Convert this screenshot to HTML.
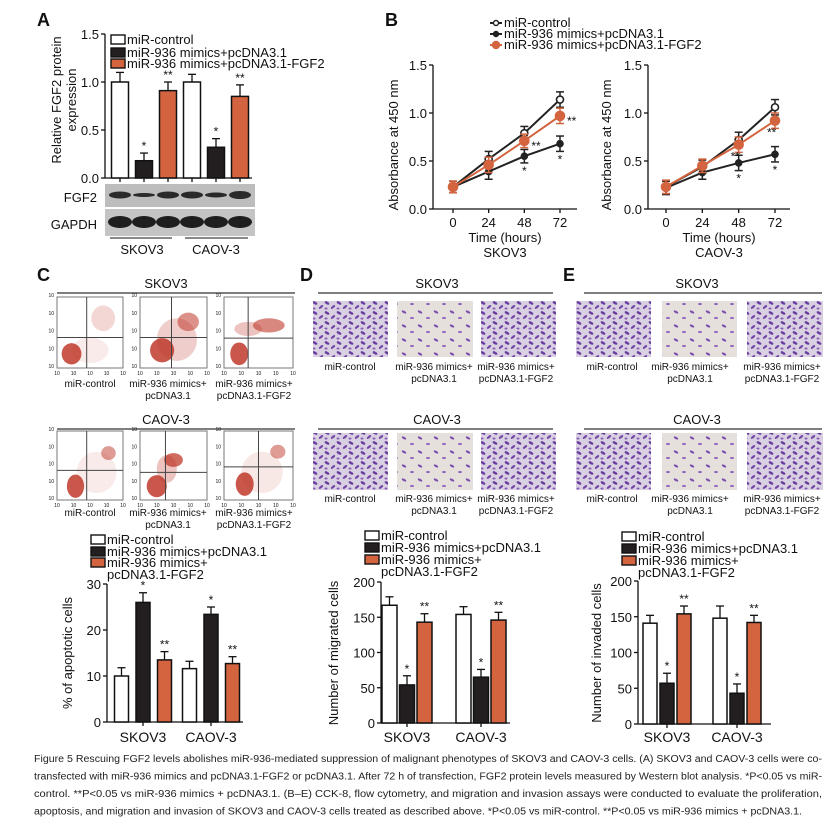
<!DOCTYPE html>
<html><head><meta charset="utf-8">
<style>
html,body{margin:0;padding:0;background:#fff;}
svg{display:block;font-family:"Liberation Sans",Arial,sans-serif;}
</style></head>
<body>
<svg id="fig" width="838" height="832" viewBox="0 0 838 832" xmlns="http://www.w3.org/2000/svg">
<defs>
<pattern id="densePat" width="12" height="10" patternUnits="userSpaceOnUse">
<rect width="12" height="10" fill="#d9d0e2"/>
<ellipse cx="3" cy="3" rx="2.6" ry="1.3" fill="#6a3fa0" transform="rotate(30 3 3)"/>
<ellipse cx="9" cy="7" rx="2.6" ry="1.2" fill="#7446a8" transform="rotate(-40 9 7)"/>
<ellipse cx="2" cy="8.5" rx="1.5" ry="1" fill="#8a5cba"/>
</pattern>
<pattern id="sparsePat" width="16" height="14" patternUnits="userSpaceOnUse">
<rect width="16" height="14" fill="#e6e0dc"/>
<ellipse cx="4" cy="4" rx="2.5" ry="1.1" fill="#7c4fb0" transform="rotate(30 4 4)"/>
<ellipse cx="12" cy="10" rx="2" ry="1" fill="#8d64bb"/>
</pattern>
</defs>
</svg>
<script>
// ---------- DATA ----------
const barCategories = ['SKOV3', 'CAOV-3'];
const seriesNames = ['miR-control', 'miR-936 mimics+pcDNA3.1', 'miR-936 mimics+pcDNA3.1-FGF2'];
// Panel A
const aControl = [1.0, 1.0];
const aMimics = [0.18, 0.32];
const aFGF2 = [0.91, 0.85];
const aControlErr = [0.10, 0.08];
const aMimicsErr = [0.08, 0.09];
const aFGF2Err = [0.09, 0.12];
const aTicks = ['0.0', '0.5', '1.0', '1.5'];
// Panel B
const bTimes = [0, 24, 48, 72];
const bTimeTicks = ['0', '24', '48', '72'];
const bSkovControl = [0.23, 0.52, 0.79, 1.14];
const bSkovMimics = [0.23, 0.39, 0.55, 0.68];
const bSkovFGF2 = [0.23, 0.46, 0.71, 0.97];
const bSkovErr = [0.06, 0.08, 0.07, 0.08];
const bCaovControl = [0.23, 0.44, 0.72, 1.06];
const bCaovMimics = [0.22, 0.38, 0.48, 0.57];
const bCaovFGF2 = [0.23, 0.45, 0.67, 0.92];
const bCaovErr = [0.07, 0.07, 0.08, 0.08];
const bTicks = ['0.0', '0.5', '1.0', '1.5'];
// Panel C (apoptosis)
const cControl = [10.0, 11.6];
const cMimics = [26.0, 23.4];
const cFGF2 = [13.5, 12.7];
const cControlErr = [1.8, 1.6];
const cMimicsErr = [2.1, 1.6];
const cFGF2Err = [1.8, 1.5];
const cTicks = ['0', '10', '20', '30'];
// Panel D (migration)
const dControl = [167, 154];
const dMimics = [54, 65];
const dFGF2 = [143, 146];
const dControlErr = [12, 11];
const dMimicsErr = [13, 11];
const dFGF2Err = [12, 11];
const dTicks = ['0', '50', '100', '150', '200'];
// Panel E (invasion)
const eControl = [141, 148];
const eMimics = [57, 43];
const eFGF2 = [154, 142];
const eControlErr = [11, 17];
const eMimicsErr = [14, 13];
const eFGF2Err = [11, 10];
const eTicks = ['0', '50', '100', '150', '200'];

// ---------- HELPERS ----------
const NS = 'http://www.w3.org/2000/svg';
const svg = document.getElementById('fig');
const ORANGE = '#d4643f';
function mk(tag, attrs, parent) {
  const e = document.createElementNS(NS, tag);
  for (const k in attrs) e.setAttribute(k, attrs[k]);
  (parent || svg).appendChild(e);
  return e;
}
function tx(x, y, s, size, anchor, name, extra) {
  const a = {x: x, y: y, 'font-size': size, 'text-anchor': anchor || 'start', fill: '#111'};
  if (extra) for (const k in extra) a[k] = extra[k];
  const t = mk('text', a);
  t.textContent = s;
  
  
  return t;
}
function ln(x1, y1, x2, y2, name, w, col) {
  const l = mk('line', {x1: x1, y1: y1, x2: x2, y2: y2, stroke: col || '#111', 'stroke-width': w || 1.3});
  
  
  return l;
}

// ---------- BAR CHART ----------
function barChart(p, series, errs, ticks, max) {
  const ys = v => p.y0 - (v / max) * (p.y0 - p.y1);
  ln(p.ax, p.y1, p.ax, p.y0, p.id + '-y-axis');
  ln(p.ax, p.y0, p.xe, p.y0, p.id + '-x-axis');
  ticks.forEach(t => {
    const v = parseFloat(t);
    ln(p.ax - 4, ys(v), p.ax, ys(v), p.id + '-y-tick');
    tx(p.ax - 6, ys(v) + 5, t, 13, 'end', p.id + '-y-tick-label');
  });
  const fills = ['#fff', '#231f20', ORANGE];
  const marks = [null, '*', '**'];
  barCategories.forEach((cat, g) => {
    const gc = p.groups[g];
    series.forEach((vals, s) => {
      const cx = gc + (s - 1) * p.off;
      const v = vals[g], e = errs[s][g];
      const top = ys(v), etop = ys(v + e);
      ln(cx, etop, cx, top, p.id + '-error-bar');
      ln(cx - 4, etop, cx + 4, etop, p.id + '-error-cap');
      const r = mk('rect', {x: cx - p.bw / 2, y: top, width: p.bw, height: p.y0 - top, fill: fills[s], stroke: '#111', 'stroke-width': 1.5});
      
      
      if (p.subTicks) ln(cx, p.y0, cx, p.y0 + 4, p.id + '-x-tick');
      if (marks[s]) tx(cx, etop - 3, marks[s], 12, 'middle', p.id + '-significance');
    });
    if (!p.subTicks) ln(gc, p.y0, gc, p.y0 + 4, p.id + '-x-tick');
    if (p.catY) tx(gc, p.catY, cat, 14, 'middle', p.id + '-category-label');
  });
}
function legend(x, ys, names, fs, name, wrapY) {
  const fills = ['#fff', '#231f20', ORANGE];
  names.forEach((n, i) => {
    const r = mk('rect', {x: x, y: ys[i], width: 14, height: 9, fill: fills[i], stroke: '#111', 'stroke-width': 1.4});
    
    
    tx(x + 16, ys[i] + 9, n, fs, 'start', name + '-entry');
  });
  if (wrapY) tx(x + 16, wrapY, 'pcDNA3.1-FGF2', fs, 'start', name + '-entry-wrap');
}

// ---------- PANEL LABELS ----------
[['A', 37, 26], ['B', 385, 26], ['C', 37, 281], ['D', 300, 281], ['E', 563, 281]].forEach(l => {
  tx(l[1], l[2], l[0], 18, 'start', 'panel-label-' + l[0].toLowerCase(), {'font-weight': 'bold'});
});

// ---------- PANEL A ----------
barChart({id: 'a', ax: 105, y0: 178, y1: 34, xe: 252, groups: [144, 216], off: 24, bw: 17, subTicks: true},
  [aControl, aMimics, aFGF2], [aControlErr, aMimicsErr, aFGF2Err], aTicks, 1.5);
legend(111, [35, 48, 59], seriesNames, 13, 'a-legend');
tx(61, 100, 'Relative FGF2 protein', 13, 'middle', 'a-y-axis-title', {transform: 'rotate(-90 61 100)'});
tx(76, 100, 'expression', 13, 'middle', 'a-y-axis-title-2', {transform: 'rotate(-90 76 100)'});
const blot1 = mk('rect', {x: 105, y: 184, width: 150, height: 23, fill: '#bdbdbd'});


const blot2 = mk('rect', {x: 105, y: 209, width: 150, height: 27, fill: '#c4c4c4'});


const fgfH = [3.5, 2, 3.5, 3.5, 2.5, 4];
[120, 144, 168, 192, 216, 240].forEach((cx, i) => {
  const b = mk('ellipse', {cx: cx, cy: 195, rx: 11, ry: fgfH[i], fill: '#2a2a2a'});
  
  
  const g = mk('ellipse', {cx: cx, cy: 222, rx: 12, ry: 6, fill: '#1e1e1e'});
  
  
});
tx(97, 202, 'FGF2', 13, 'end', 'fgf2-label');
tx(97, 229, 'GAPDH', 13, 'end', 'gapdh-label');
ln(110, 238, 172, 238, 'a-group-line-skov3', 1);
ln(185, 238, 248, 238, 'a-group-line-caov3', 1);
tx(142, 254, 'SKOV3', 13, 'middle', 'a-group-label-skov3');
tx(216, 254, 'CAOV-3', 13, 'middle', 'a-group-label-caov3');

// ---------- PANEL B ----------
function lineChart(p, ctrl, mim, fgf, err, sigM, sigF) {
  const ys = v => p.y0 - (v / 1.5) * (p.y0 - p.y1);
  const xs = t => p.x0 + (t / 72) * (p.x72 - p.x0);
  ln(p.ax, p.y1, p.ax, p.y0, p.id + '-y-axis');
  ln(p.ax, p.y0, p.xe, p.y0, p.id + '-x-axis');
  bTicks.forEach(t => {
    const v = parseFloat(t);
    ln(p.ax - 4, ys(v), p.ax, ys(v), p.id + '-y-tick');
    tx(p.ax - 6, ys(v) + 5, t, 13, 'end', p.id + '-y-tick-label');
  });
  bTimes.forEach((t, i) => {
    ln(xs(t), p.y0, xs(t), p.y0 + 4, p.id + '-x-tick');
    tx(xs(t), p.y0 + 18, bTimeTicks[i], 13, 'middle', p.id + '-x-tick-label');
  });
  tx((p.ax + p.xe) / 2, p.y0 + 33, 'Time (hours)', 13, 'middle', p.id + '-x-axis-title');
  tx((p.ax + p.xe) / 2, p.y0 + 48, p.title, 13, 'middle', p.id + '-cell-line-title');
  tx(p.yl, (p.y0 + p.y1) / 2 + 8, 'Absorbance at 450 nm', 13, 'middle', p.id + '-y-axis-title', {transform: 'rotate(-90 ' + p.yl + ' ' + ((p.y0 + p.y1) / 2 + 8) + ')'});
  const sets = [[ctrl, '#222', 'open'], [mim, '#222', 'small'], [fgf, ORANGE, 'big']];
  sets.forEach((s, si) => {
    const pts = bTimes.map((t, i) => xs(t) + ',' + ys(s[0][i])).join(' ');
    const pl = mk('polyline', {points: pts, fill: 'none', stroke: s[1], 'stroke-width': 2});
    
    
    bTimes.forEach((t, i) => {
      const x = xs(t), y = ys(s[0][i]), e = err[i];
      ln(x, ys(s[0][i] + e), x, ys(s[0][i] - e), p.id + '-error-bar', 1.5, s[1]);
      ln(x - 4, ys(s[0][i] + e), x + 4, ys(s[0][i] + e), p.id + '-error-cap', 1.5, s[1]);
      ln(x - 4, ys(s[0][i] - e), x + 4, ys(s[0][i] - e), p.id + '-error-cap', 1.5, s[1]);
      const c = mk('circle', {cx: x, cy: y, r: s[2] === 'big' ? 4.5 : (s[2] === 'open' ? 3.5 : 3), fill: s[2] === 'open' ? '#fff' : s[1], stroke: s[1], 'stroke-width': 1.6});
      
      
    });
  });
  sigM.forEach((m, i) => { if (m) tx(xs(bTimes[i]), ys(mim[i] - err[i]) + 12, m, 12, 'middle', p.id + '-significance'); });
  sigF.forEach((m, i) => { if (m) tx(xs(bTimes[i]) + p.sfx, ys(fgf[i]) + p.sfy, m, 12, 'start', p.id + '-significance'); });
}
lineChart({id: 'b-skov3', ax: 433, y0: 209, y1: 65, xe: 577, x0: 453, x72: 560, title: 'SKOV3', yl: 398, sfx: 7, sfy: 9},
  bSkovControl, bSkovMimics, bSkovFGF2, bSkovErr, ['', '', '*', '*'], ['', '', '**', '**']);
lineChart({id: 'b-caov3', ax: 648, y0: 209, y1: 65, xe: 790, x0: 666, x72: 775, title: 'CAOV-3', yl: 611, sfx: -8, sfy: 16},
  bCaovControl, bCaovMimics, bCaovFGF2, bCaovErr, ['', '', '*', '*'], ['', '', '**', '**']);
[['open', '#222'], ['small', '#222'], ['big', ORANGE]].forEach((s, i) => {
  const y = 23 + i * 11;
  ln(490, y, 502, y, 'b-legend-line-' + i, 2, s[1]);
  const c = mk('circle', {cx: 496, cy: y, r: s[0] === 'big' ? 3.5 : 2.5, fill: s[0] === 'open' ? '#fff' : s[1], stroke: s[1], 'stroke-width': 1.4});
  
  
  tx(504, y + 4, seriesNames[i], 13, 'start', 'b-legend-entry');
});

// ---------- IMAGE PANELS C, D, E ----------
function sectionTitle(cx, y, x1, x2, s, name) {
  tx(cx, y, s, 13, 'middle', name);
  ln(x1, y + 5, x2, y + 5, name + '-rule', 1.5, '#555');
}
function subLabels(centers, y, name, dy) {
  const l1 = ['miR-control', 'miR-936 mimics+', 'miR-936 mimics+'];
  const l2 = ['', 'pcDNA3.1', 'pcDNA3.1-FGF2'];
  centers.forEach((c, i) => {
    tx(c, y, l1[i], 10, 'middle', name + '-label');
    if (l2[i]) tx(c, y + (dy || 12), l2[i], 10, 'middle', name + '-label-2');
  });
}
function flowPlot(x, y, w, h, qx, qy, blobs, name) {
  const r = mk('rect', {x: x, y: y, width: w, height: h, fill: '#fff', stroke: '#777', 'stroke-width': 1});
  
  
  blobs.forEach(b => {
    const e = mk('ellipse', {cx: x + b[0] * w, cy: y + b[1] * h, rx: b[2] * w, ry: b[3] * h, fill: '#c0392b', opacity: b[4]});
    
    
  });
  ln(x + qx * w, y, x + qx * w, y + h, name + '-gate-v', 1, '#444');
  ln(x, y + qy * h, x + w, y + qy * h, name + '-gate-h', 1, '#444');
  for (let i = 0; i < 5; i++) {
    tx(x + i * w / 4, y + h + 7, '10', 5, 'middle', name + '-x-tick');
    tx(x - 3, y + h - i * h / 4, '10', 5, 'end', name + '-y-tick');
  }
}
sectionTitle(166, 288, 57, 295, 'SKOV3', 'c-skov3-title');
flowPlot(57, 297, 66, 71, 0.45, 0.57, [[0.22, 0.8, 0.15, 0.15, 0.85], [0.7, 0.3, 0.18, 0.18, 0.2], [0.5, 0.75, 0.28, 0.18, 0.1]], 'c-skov3-flow-control');
flowPlot(140, 297, 67, 71, 0.47, 0.57, [[0.33, 0.75, 0.18, 0.17, 0.85], [0.72, 0.35, 0.16, 0.13, 0.55], [0.55, 0.6, 0.3, 0.3, 0.25]], 'c-skov3-flow-mimics');
flowPlot(224, 297, 69, 71, 0.35, 0.58, [[0.22, 0.8, 0.13, 0.16, 0.85], [0.65, 0.4, 0.23, 0.1, 0.6], [0.35, 0.45, 0.2, 0.1, 0.3]], 'c-skov3-flow-fgf2');
subLabels([90, 168, 254], 387, 'c-skov3');
sectionTitle(166, 424, 57, 295, 'CAOV-3', 'c-caov3-title');
flowPlot(57, 431, 66, 69, 0.45, 0.57, [[0.28, 0.8, 0.13, 0.17, 0.85], [0.78, 0.32, 0.11, 0.1, 0.5], [0.6, 0.6, 0.3, 0.3, 0.1]], 'c-caov3-flow-control');
flowPlot(140, 431, 67, 69, 0.38, 0.6, [[0.25, 0.8, 0.15, 0.16, 0.85], [0.5, 0.42, 0.14, 0.1, 0.75], [0.4, 0.55, 0.15, 0.2, 0.3]], 'c-caov3-flow-mimics');
flowPlot(224, 431, 69, 69, 0.5, 0.52, [[0.3, 0.77, 0.13, 0.17, 0.85], [0.78, 0.3, 0.11, 0.1, 0.5], [0.55, 0.6, 0.3, 0.3, 0.12]], 'c-caov3-flow-fgf2');
subLabels([90, 168, 254], 516, 'c-caov3');
function micro(x, y, w, h, dense, name) {
  const r = mk('rect', {x: x, y: y, width: w, height: h, fill: dense ? 'url(#densePat)' : 'url(#sparsePat)'});
  
  
}
sectionTitle(437, 288, 318, 553, 'SKOV3', 'd-skov3-title');
micro(313, 301, 75, 56, true, 'd-skov3-image-control');
micro(397, 301, 76, 56, false, 'd-skov3-image-mimics');
micro(481, 301, 75, 56, true, 'd-skov3-image-fgf2');
subLabels([350, 434, 516], 370, 'd-skov3');
sectionTitle(437, 424, 318, 553, 'CAOV-3', 'd-caov3-title');
micro(313, 433, 75, 57, true, 'd-caov3-image-control');
micro(397, 433, 76, 57, false, 'd-caov3-image-mimics');
micro(481, 433, 75, 57, true, 'd-caov3-image-fgf2');
subLabels([350, 434, 516], 502, 'd-caov3');
sectionTitle(697, 288, 584, 822, 'SKOV3', 'e-skov3-title');
micro(576, 301, 75, 56, true, 'e-skov3-image-control');
micro(662, 301, 75, 56, false, 'e-skov3-image-mimics');
micro(747, 301, 76, 56, true, 'e-skov3-image-fgf2');
subLabels([612, 690, 782], 370, 'e-skov3');
sectionTitle(697, 424, 584, 822, 'CAOV-3', 'e-caov3-title');
micro(576, 433, 75, 57, true, 'e-caov3-image-control');
micro(662, 433, 75, 57, false, 'e-caov3-image-mimics');
micro(747, 433, 76, 57, true, 'e-caov3-image-fgf2');
subLabels([612, 690, 782], 502, 'e-caov3');

// ---------- BOTTOM BAR CHARTS ----------
legend(91, [535, 547, 558], ['miR-control', 'miR-936 mimics+pcDNA3.1', 'miR-936 mimics+'], 13, 'c-legend', 579);
barChart({id: 'c', ax: 107, y0: 722, y1: 584, xe: 243, groups: [143, 211], off: 21.5, bw: 14, catY: 742},
  [cControl, cMimics, cFGF2], [cControlErr, cMimicsErr, cFGF2Err], cTicks, 30);
tx(72, 653, '% of apoptotic cells', 13, 'middle', 'c-y-axis-title', {transform: 'rotate(-90 72 653)'});

legend(365, [531, 543, 555], ['miR-control', 'miR-936 mimics+pcDNA3.1', 'miR-936 mimics+'], 13, 'd-legend', 576);
barChart({id: 'd', ax: 381, y0: 723, y1: 582, xe: 510, groups: [407, 481], off: 17.5, bw: 15, catY: 742},
  [dControl, dMimics, dFGF2], [dControlErr, dMimicsErr, dFGF2Err], dTicks, 200);
tx(338, 653, 'Number of migrated cells', 13, 'middle', 'd-y-axis-title', {transform: 'rotate(-90 338 653)'});

legend(622, [532, 544, 556], ['miR-control', 'miR-936 mimics+pcDNA3.1', 'miR-936 mimics+'], 13, 'e-legend', 577);
barChart({id: 'e', ax: 638, y0: 724, y1: 581, xe: 771, groups: [667, 737], off: 17, bw: 14, catY: 742},
  [eControl, eMimics, eFGF2], [eControlErr, eMimicsErr, eFGF2Err], eTicks, 200);
tx(601, 653, 'Number of invaded cells', 13, 'middle', 'e-y-axis-title', {transform: 'rotate(-90 601 653)'});

// ---------- CAPTION ----------
const capLines = [
  'Figure 5 Rescuing FGF2 levels abolishes miR-936-mediated suppression of malignant phenotypes of SKOV3 and CAOV-3 cells. (A) SKOV3 and CAOV-3 cells were co-',
  'transfected with miR-936 mimics and pcDNA3.1-FGF2 or pcDNA3.1. After 72 h of transfection, FGF2 protein levels measured by Western blot analysis. *P<0.05 vs miR-',
  'control. **P<0.05 vs miR-936 mimics + pcDNA3.1. (B–E) CCK-8, flow cytometry, and migration and invasion assays were conducted to evaluate the proliferation,',
  'apoptosis, and migration and invasion of SKOV3 and CAOV-3 cells treated as described above. *P<0.05 vs miR-control. **P<0.05 vs miR-936 mimics + pcDNA3.1.'
];
const capW = [788, 788, 788, 768];
capLines.forEach((s, i) => {
  tx(34, 762 + i * 17.5, s, 10, 'start', 'caption-line-' + (i + 1), {textLength: capW[i], lengthAdjust: 'spacingAndGlyphs', fill: '#222'});
});
</script>
</body></html>
